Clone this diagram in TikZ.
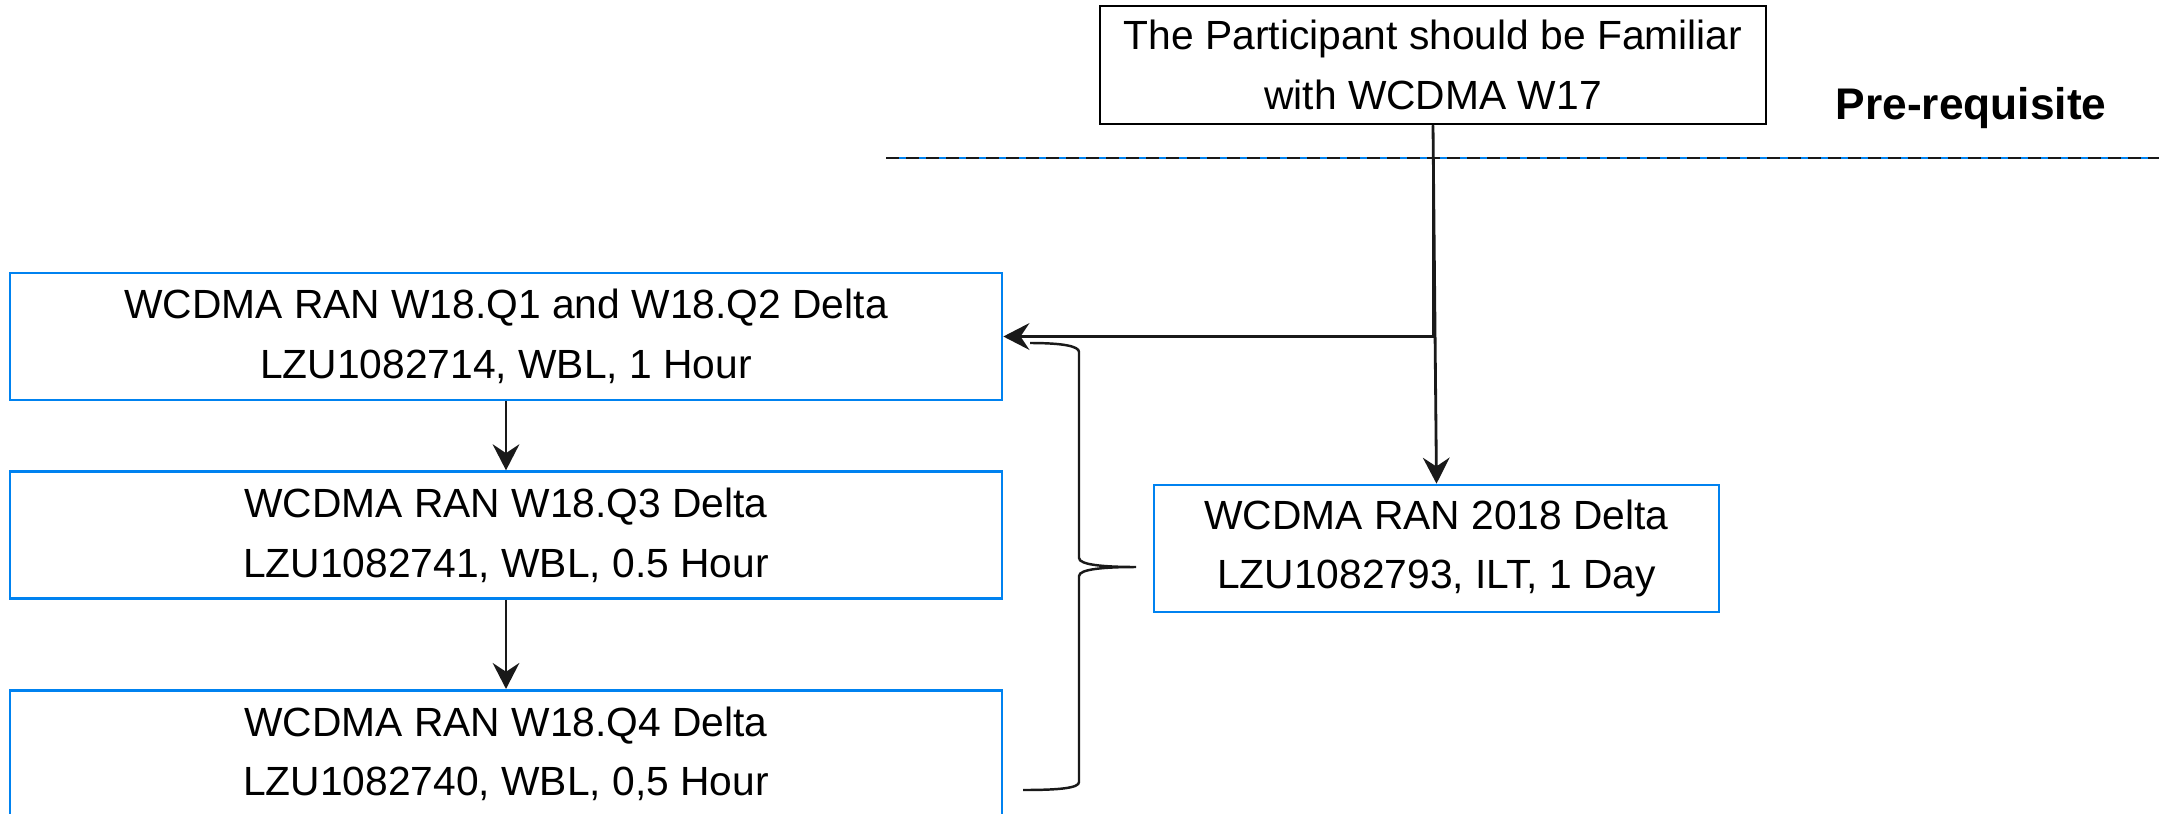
\documentclass[tikz,border=0pt]{standalone}
\usepackage{fontspec}
\setmainfont{Liberation Sans}
\usetikzlibrary{arrows.meta, positioning}

\definecolor{eblue}{HTML}{0082F0}

\begin{document}
\begin{tikzpicture}[
  node distance=0.69cm and 1.0cm,
  every node/.style={font=\fontsize{11.6}{17}\selectfont},
  course/.style={rectangle, draw=eblue, line width=0.75pt, minimum width=9.92cm, minimum height=1.27cm, align=center, fill=white},
  prereq/.style={rectangle, draw, line width=0.8pt, minimum width=6.66cm, minimum height=1.18cm, align=center, fill=white},
  arrow/.style={-{Stealth[length=7.4pt, width=7.6pt, inset=2.5pt]}, line width=0.8pt, black!90},
  bracket/.style={line width=0.7pt, black!90}
]
\useasboundingbox (0,0) rectangle (21.77,8.13);

% Pre-requisite row
\node[prereq] (familiar) at (14.33,7.48) {The Participant should be Familiar\\with WCDMA W17};
\node[font=\fontsize{12.6}{15}\selectfont\bfseries] (prelabel) at (19.71,7.05) {Pre-requisite};

% Separator
\coordinate (sepL) at (8.86,6.55);
\coordinate (sepR) at (21.59,6.55);
\draw[eblue, line width=0.3pt] (sepL) -- (sepR);
\draw[black!90, line width=0.75pt, dash pattern=on 3.7pt off 2pt] (sepL) -- (sepR);

% WBL column
\node[course] (wbl1) at (5.06,4.765) {WCDMA RAN W18.Q1 and W18.Q2 Delta\\LZU1082714, WBL, 1 Hour};
\node[course, below=of wbl1] (wbl2) {WCDMA RAN W18.Q3 Delta\\LZU1082741, WBL, 0.5 Hour};
\node[course, below=0.89cm of wbl2] (wbl3) {WCDMA RAN W18.Q4 Delta\\LZU1082740, WBL, 0,5 Hour};

% ILT course
\node[course, minimum width=5.65cm] (ilt) at (14.365,2.645) {WCDMA RAN 2018 Delta\\LZU1082793, ILT, 1 Day};

% Arrows
\draw[arrow] (familiar.south) |- (wbl1.east);
\draw[arrow] (familiar.south) -- (ilt.north);
\draw[arrow, line width=0.7pt] (wbl1) -- (wbl2);
\draw[arrow, line width=0.7pt] (wbl2) -- (wbl3);

% Brace
\draw[bracket] (10.30,4.70) .. controls (10.62,4.70) and (10.79,4.67) .. (10.79,4.61)
  -- (10.79,2.55) .. controls (10.79,2.48) and (11.05,2.46) .. (11.36,2.46)
  .. controls (11.05,2.46) and (10.79,2.44) .. (10.79,2.37)
  -- (10.79,0.31) .. controls (10.79,0.25) and (10.60,0.23) .. (10.23,0.23);

\end{tikzpicture}
\end{document}
